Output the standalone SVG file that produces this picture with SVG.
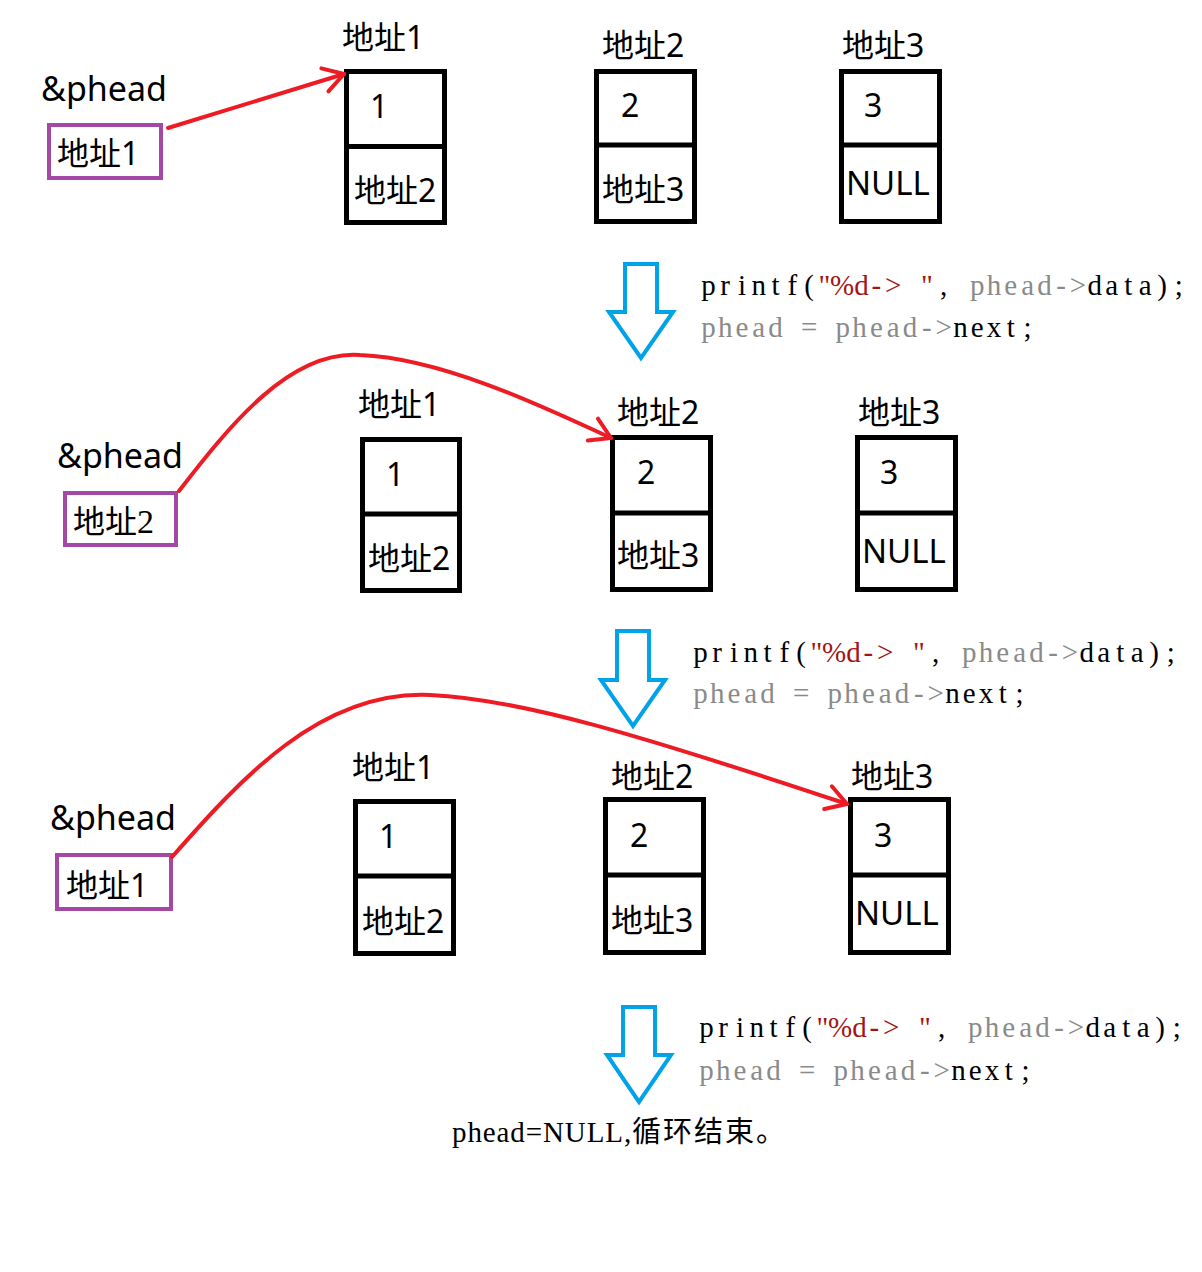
<svg xmlns="http://www.w3.org/2000/svg" width="1202" height="1272" viewBox="0 0 1202 1272">
<defs>
<style>
.lbl{font-family:"Noto Sans","Noto Sans CJK SC",sans-serif;font-size:32px;fill:#000}
.ph{font-size:34px}
.node rect{fill:#fff;stroke:#000;stroke-width:5}
.node line{stroke:#000;stroke-width:5}
.ptr rect{fill:none;stroke:#A349A4;stroke-width:4}
.red{fill:none;stroke:#ED1C24;stroke-width:4;stroke-linecap:round}
.blue{fill:none;stroke:#00A2E8;stroke-width:4;stroke-linejoin:miter}
.code{font-family:"Liberation Serif","Noto Sans CJK SC",serif;font-size:29px;fill:#000;text-anchor:middle}
.end{font-family:"Liberation Serif","Noto Sans CJK SC",serif;font-size:29px;fill:#000;letter-spacing:0.9px}
.s{fill:#A31515}
.g{fill:#8A8A8A}
.cjk{font-family:"Noto Sans CJK SC",sans-serif;font-size:29px;letter-spacing:2px}
.ser{font-family:"Liberation Serif",serif;font-size:34px}
</style>
<marker id="v" markerUnits="userSpaceOnUse" markerWidth="30" markerHeight="30" viewBox="-26 -15 30 30" refX="0" refY="0" orient="auto">
<path d="M-20,-12 L0,0 L-20,12" fill="none" stroke="#ED1C24" stroke-width="4" stroke-linecap="round" stroke-linejoin="round"/>
</marker>
</defs>
<rect width="1202" height="1272" fill="#fff"/>

<!-- Row 1 -->
<g id="phead1" class="ptr">
<text class="lbl ph" x="41" y="101">&amp;phead</text>
<rect x="49" y="125" width="112" height="53"/>
<text class="lbl" x="57" y="165">地址1</text>
</g>
<g id="r1n1" class="node">
<text class="lbl" x="342" y="49">地址1</text>
<rect x="346.5" y="71.5" width="98" height="151"/>
<line x1="346.5" y1="146.5" x2="444.5" y2="146.5"/>
<text class="lbl" x="370" y="118">1</text>
<text class="lbl" x="354" y="202">地址2</text>
</g>
<g id="r1n2" class="node">
<text class="lbl" x="602" y="57">地址2</text>
<rect x="596.5" y="71.5" width="98" height="150"/>
<line x1="596.5" y1="145" x2="694.5" y2="145"/>
<text class="lbl" x="621" y="117">2</text>
<text class="lbl" x="602" y="201">地址3</text>
</g>
<g id="r1n3" class="node">
<text class="lbl" x="842" y="57">地址3</text>
<rect x="841.5" y="71.5" width="98" height="150"/>
<line x1="841.5" y1="145" x2="939.5" y2="145"/>
<text class="lbl" x="864" y="117">3</text>
<text class="lbl" x="846" y="195" style="font-size:33px">NULL</text>
</g>
<g id="code1" transform="translate(700,0)">
<text class="code" y="295" xml:space="preserve" x="8.4 25.2 42 58.8 75.6 92.4 109.2 124.5 142 161.5 176.4 193.2 210 226.8 243.6 260.4 277.2 294 310.8 327.6 344.4 361.2 378 394.8 411.6 428.4 445.2 462 478.8">printf(<tspan class="s">"%d-&gt; "</tspan>, <tspan class="g">phead-&gt;</tspan>data);</text>
<text class="code" y="337" xml:space="preserve" x="8.4 25.2 42 58.8 75.6 92.4 109.2 126 142.8 159.6 176.4 193.2 210 226.8 243.6 260.4 277.2 294 310.8 327.6"><tspan class="g">phead = phead-&gt;</tspan>next;</text>
</g>

<!-- Row 2 -->
<g id="phead2" class="ptr">
<text class="lbl ph" x="57" y="468">&amp;phead</text>
<rect x="65" y="493" width="111" height="52"/>
<text class="lbl" x="73" y="533">地址<tspan class="ser">2</tspan></text>
</g>
<g id="r2n1" class="node">
<text class="lbl" x="358" y="416">地址1</text>
<rect x="362.5" y="439.5" width="97" height="151"/>
<line x1="362.5" y1="514" x2="459.5" y2="514"/>
<text class="lbl" x="386" y="486">1</text>
<text class="lbl" x="368" y="570">地址2</text>
</g>
<g id="r2n2" class="node">
<text class="lbl" x="617" y="424">地址2</text>
<rect x="612.5" y="437.5" width="98" height="152"/>
<line x1="612.5" y1="513" x2="710.5" y2="513"/>
<text class="lbl" x="637" y="484">2</text>
<text class="lbl" x="617" y="567">地址3</text>
</g>
<g id="r2n3" class="node">
<text class="lbl" x="858" y="424">地址3</text>
<rect x="857.5" y="437.5" width="98" height="152"/>
<line x1="857.5" y1="513" x2="955.5" y2="513"/>
<text class="lbl" x="880" y="484">3</text>
<text class="lbl" x="862" y="563" style="font-size:33px">NULL</text>
</g>
<g id="code2" transform="translate(692,0)">
<text class="code" y="662" xml:space="preserve" x="8.4 25.2 42 58.8 75.6 92.4 109.2 124.5 142 161.5 176.4 193.2 210 226.8 243.6 260.4 277.2 294 310.8 327.6 344.4 361.2 378 394.8 411.6 428.4 445.2 462 478.8">printf(<tspan class="s">"%d-&gt; "</tspan>, <tspan class="g">phead-&gt;</tspan>data);</text>
<text class="code" y="703" xml:space="preserve" x="8.4 25.2 42 58.8 75.6 92.4 109.2 126 142.8 159.6 176.4 193.2 210 226.8 243.6 260.4 277.2 294 310.8 327.6"><tspan class="g">phead = phead-&gt;</tspan>next;</text>
</g>

<!-- Row 3 -->
<g id="phead3" class="ptr">
<text class="lbl ph" x="50" y="830">&amp;phead</text>
<rect x="57" y="855" width="114" height="54"/>
<text class="lbl" x="66" y="897">地址1</text>
</g>
<g id="r3n1" class="node">
<text class="lbl" x="352" y="779">地址1</text>
<rect x="355.5" y="801.5" width="98" height="152"/>
<line x1="355.5" y1="876" x2="453.5" y2="876"/>
<text class="lbl" x="379" y="848">1</text>
<text class="lbl" x="362" y="933">地址2</text>
</g>
<g id="r3n2" class="node">
<text class="lbl" x="611" y="788">地址2</text>
<rect x="605.5" y="799.5" width="98" height="153"/>
<line x1="605.5" y1="875" x2="703.5" y2="875"/>
<text class="lbl" x="630" y="847">2</text>
<text class="lbl" x="611" y="932">地址3</text>
</g>
<g id="r3n3" class="node">
<text class="lbl" x="851" y="788">地址3</text>
<rect x="850.5" y="799.5" width="98" height="153"/>
<line x1="850.5" y1="875" x2="948.5" y2="875"/>
<text class="lbl" x="874" y="847">3</text>
<text class="lbl" x="855" y="925" style="font-size:33px">NULL</text>
</g>
<g id="code3" transform="translate(698,0)">
<text class="code" y="1037" xml:space="preserve" x="8.4 25.2 42 58.8 75.6 92.4 109.2 124.5 142 161.5 176.4 193.2 210 226.8 243.6 260.4 277.2 294 310.8 327.6 344.4 361.2 378 394.8 411.6 428.4 445.2 462 478.8">printf(<tspan class="s">"%d-&gt; "</tspan>, <tspan class="g">phead-&gt;</tspan>data);</text>
<text class="code" y="1080" xml:space="preserve" x="8.4 25.2 42 58.8 75.6 92.4 109.2 126 142.8 159.6 176.4 193.2 210 226.8 243.6 260.4 277.2 294 310.8 327.6"><tspan class="g">phead = phead-&gt;</tspan>next;</text>
</g>

<g id="end">
<text class="end" x="452" y="1142">phead=NULL,<tspan class="cjk" x="632">循环结束。</tspan></text>
</g>

<!-- Connectors -->
<g id="connectors">
<path class="red" d="M168,128 L344,74" marker-end="url(#v)"/>
<path class="red" d="M179,491 C230,425 290,350 360,355 C440,358 540,405 611,438" marker-end="url(#v)"/>
<path class="red" d="M172,857 C240,780 320,690 430,695 C520,699 640,735 847,804" marker-end="url(#v)"/>
<polygon class="blue" points="625,264 657,264 657,312 673,312 641,358 609,312 625,312"/>
<polygon class="blue" points="617,631 649,631 649,680 665,680 633,726 601,680 617,680"/>
<polygon class="blue" points="623,1007 655,1007 655,1055 671,1055 639,1102 607,1055 623,1055"/>
</g>
</svg>
